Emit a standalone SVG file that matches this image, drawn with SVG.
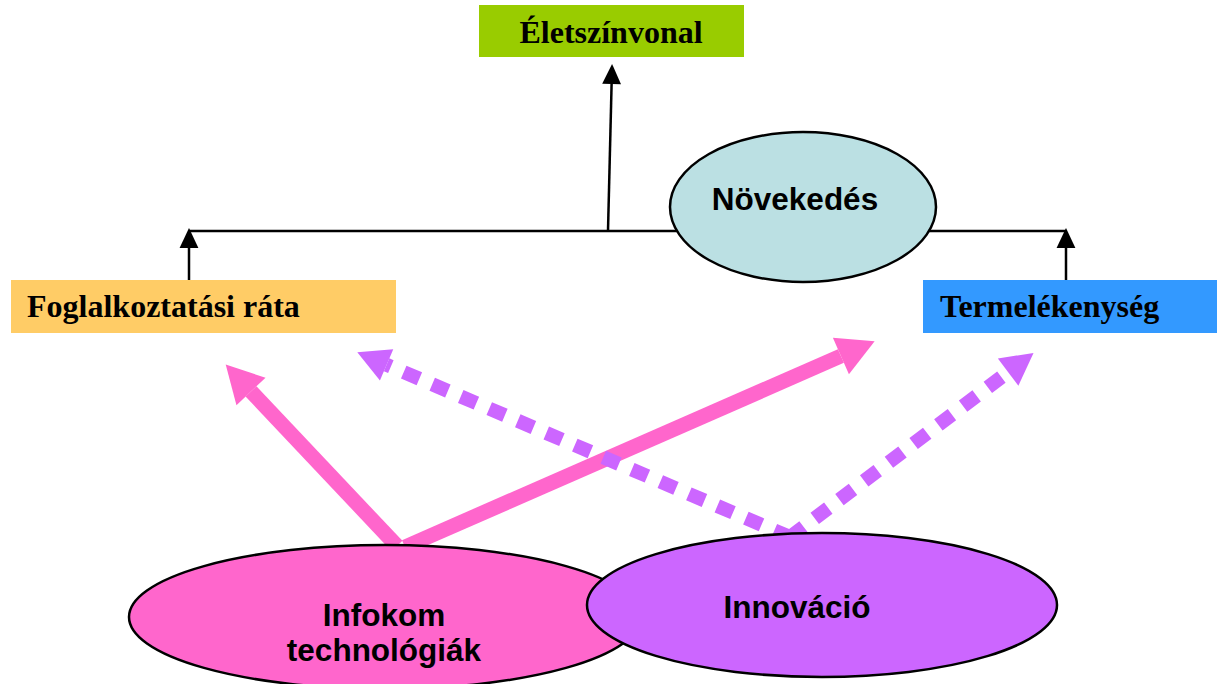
<svg xmlns="http://www.w3.org/2000/svg" width="1217" height="684" viewBox="0 0 1217 684">
<style>
.box-t{font-family:"Liberation Serif","Times New Roman",serif;font-weight:bold;font-size:32px;fill:#000}
.ell-t{font-family:"Liberation Sans",Arial,sans-serif;font-weight:bold;font-size:31.5px;fill:#000;text-anchor:middle}
.ell{stroke:#000;stroke-width:2.5}
.thin{stroke:#000;stroke-width:2.5;fill:none}
.pink{stroke:#FF66CC;stroke-width:15;fill:none}
.dot{stroke:#CC66FF;stroke-width:14;fill:none;stroke-dasharray:17 14}
</style>
<defs>
<marker id="hb" markerUnits="userSpaceOnUse" markerWidth="20" markerHeight="20" viewBox="0 -8 17 16" refX="0" refY="0" orient="auto" overflow="visible">
<path d="M0,-8 L17,0 L0,8 z" fill="#000"/>
</marker>
<marker id="hp" markerUnits="userSpaceOnUse" markerWidth="40" markerHeight="40" viewBox="0 -19 35 38" refX="0" refY="0" orient="auto" overflow="visible">
<path d="M0,-19 L35,0 L0,19 z" fill="#FF66CC"/>
</marker>
<marker id="hv" markerUnits="userSpaceOnUse" markerWidth="34" markerHeight="34" viewBox="0 -16 30 32" refX="0" refY="0" orient="auto" overflow="visible">
<path d="M0,-16 L30,0 L0,16 z" fill="#CC66FF"/>
</marker>
</defs>

<g id="connectors">
<line class="thin" x1="189" y1="231" x2="1066" y2="231"/>
<line class="thin" x1="608" y1="231" x2="611.6" y2="84" marker-end="url(#hb)"/>
<line class="thin" x1="189" y1="280" x2="189" y2="248" marker-end="url(#hb)"/>
<line class="thin" x1="1066" y1="280" x2="1066" y2="248" marker-end="url(#hb)"/>
<line class="pink" x1="397" y1="546" x2="251" y2="391.4" marker-end="url(#hp)"/>
<line class="pink" x1="405" y1="547" x2="840.9" y2="356" marker-end="url(#hp)"/>
<line class="dot" x1="790" y1="537" x2="386.6" y2="364.8" marker-end="url(#hv)"/>
<line class="dot" x1="790" y1="537" x2="1008.1" y2="372.1" marker-end="url(#hv)"/>
</g>

<g id="eletszinvonal">
<rect x="479" y="5" width="265" height="52" fill="#99CC00"/>
<text class="box-t" x="611" y="43" text-anchor="middle">Életszínvonal</text>
</g>

<g id="novekedes">
<ellipse class="ell" cx="803" cy="207" rx="133" ry="75" fill="#BBE0E3"/>
<text class="ell-t" x="795" y="210">Növekedés</text>
</g>

<g id="foglalkoztatas">
<rect x="11" y="280" width="385" height="53" fill="#FFCC66"/>
<text class="box-t" x="27" y="317">Foglalkoztatási ráta</text>
</g>

<g id="termelekenyseg">
<rect x="923" y="280" width="294" height="53" fill="#3399FF"/>
<text class="box-t" x="940" y="317">Termelékenység</text>
</g>

<g id="infokom">
<ellipse class="ell" cx="385" cy="617" rx="256" ry="72" fill="#FF66CC"/>
<text class="ell-t" x="384" y="626">Infokom</text>
<text class="ell-t" x="384" y="661">technológiák</text>
</g>

<g id="innovacio">
<ellipse class="ell" cx="822" cy="605" rx="235" ry="72" fill="#CC66FF"/>
<text class="ell-t" x="797" y="618">Innováció</text>
</g>
</svg>
